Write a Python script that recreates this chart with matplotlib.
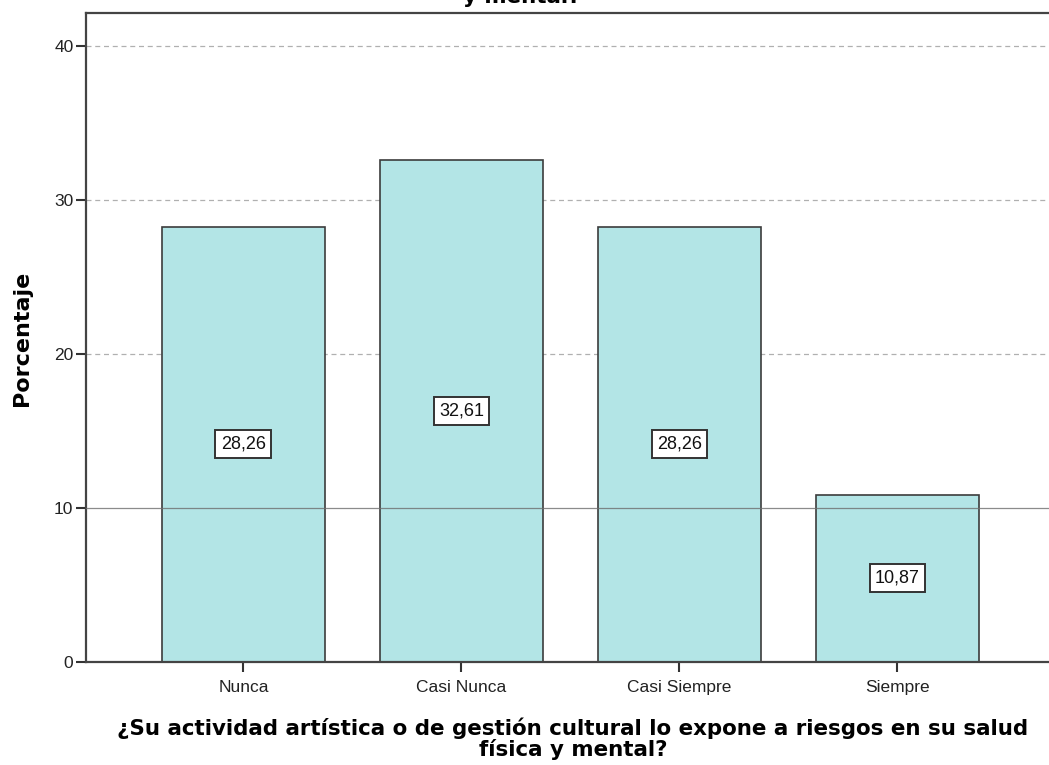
import matplotlib
matplotlib.use("Agg")
import matplotlib.pyplot as plt

categories = ["Nunca", "Casi Nunca", "Casi Siempre", "Siempre"]
values = [28.26, 32.61, 28.26, 10.87]
labels = ["28,26", "32,61", "28,26", "10,87"]
yticks = [0, 10, 20, 30, 40]

plt.rcParams['font.family'] = ['Liberation Sans', 'DejaVu Sans']

fig = plt.figure(figsize=(10.49, 7.65), dpi=100)
W, H = 1049, 765
ax = fig.add_axes([86 / W, 1 - 662 / H, (1049 - 86) / W, (662 - 13) / H])

x = list(range(len(categories)))
ax.bar(x, values, width=0.75, color='#b3e5e6', edgecolor='#3c3c3c', linewidth=1.2, zorder=2)

for i, (v, lab) in enumerate(zip(values, labels)):
    ax.text(i, v / 2, lab, ha='center', va='center', fontsize=13, color='#111111', zorder=5,
            bbox=dict(boxstyle='square,pad=0.3', facecolor='white', edgecolor='#333333', linewidth=1.4))

for yv in [20, 30, 40]:
    ax.axhline(yv, color='#b0b0b0', linestyle=(0, (4, 3)), linewidth=0.9, zorder=1)
ax.axhline(10, color='#6e6e6e', linewidth=0.9, alpha=0.8, zorder=3)

ax.set_xlim(-0.722, 3.695)
ax.set_ylim(0, 42.14)
ax.set_xticks(x)
ax.set_xticklabels(categories, fontsize=12.5, color='#222222')
ax.set_yticks(yticks)
ax.set_yticklabels([str(t) for t in yticks], fontsize=12.5, color='#222222')
ax.tick_params(axis='x', direction='out', length=7, width=1.5, color='#333333', pad=6)
ax.tick_params(axis='y', direction='out', length=7, width=1.5, color='#333333', pad=2)

for s in ['left', 'bottom', 'top']:
    ax.spines[s].set_color('#444444')
    ax.spines[s].set_linewidth(1.6)
ax.spines['right'].set_visible(False)

fig.text(22 / W, 1 - 338 / H, 'Porcentaje', rotation=90, ha='center', va='center',
         fontsize=16, fontweight='bold', family=['DejaVu Sans'])
fig.text(573 / W, 1 - 739 / H, '¿Su actividad artística o de gestión cultural lo expone a riesgos en su salud\nfísica y mental?',
         ha='center', va='center', fontsize=15.4, fontweight='bold', linespacing=1.0, family=['DejaVu Sans'])
fig.text(522 / W, 1 - 3 / H, 'y mental?', ha='center', va='baseline', fontsize=15.4, fontweight='bold',
         family=['DejaVu Sans'])

fig.savefig('out.png', dpi=100)
